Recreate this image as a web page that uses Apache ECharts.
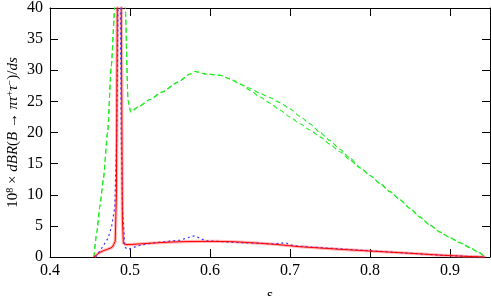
<!DOCTYPE html>
<html><head><meta charset="utf-8">
<script src="https://cdn.jsdelivr.net/npm/echarts@6/dist/echarts.min.js"></script>
<style>html,body{margin:0;padding:0;background:#fff}#c{width:491px;height:296px}</style>
</head><body><div id="c"></div>
<script>
// x ticks / y ticks
const xTickValues = [0.4, 0.5, 0.6, 0.7, 0.8, 0.9];
const yTickValues = [0, 5, 10, 15, 20, 25, 30, 35, 40];

// Red solid curve
const redS = [0.455, 0.4583, 0.4625, 0.4666, 0.471, 0.475, 0.478, 0.48, 0.4815, 0.483, 0.4841, 0.4876, 0.4891, 0.4905, 0.4917, 0.495, 0.5, 0.5125, 0.53, 0.55, 0.57, 0.5875, 0.61, 0.63, 0.65, 0.68, 0.7125, 0.7625, 0.8, 0.85, 0.8875, 0.92, 0.944];
const redV = [0, 0.35, 0.75, 1.0, 1.2, 1.4, 1.6, 1.9, 2.5, 10, 40, 400, 40, 6, 2.2, 2.0, 2.0, 2.1, 2.25, 2.4, 2.48, 2.5, 2.5, 2.45, 2.3, 2.05, 1.65, 1.24, 0.96, 0.6, 0.3, 0.1, 0];

// Blue dotted curve
const blueS = [0.457, 0.462, 0.467, 0.4725, 0.477, 0.481, 0.4835, 0.485, 0.4865, 0.4879, 0.489, 0.4905, 0.4935, 0.4975, 0.5, 0.51, 0.525, 0.54, 0.5625, 0.575, 0.581, 0.5875, 0.595, 0.61, 0.6375, 0.665, 0.68, 0.694, 0.704, 0.75, 0.8, 0.85, 0.8875, 0.92, 0.944];
const blueV = [0, 0.9, 1.9, 3.0, 4.9, 8, 20, 40, 400, 40, 20, 8, 1.6, 1.2, 1.3, 1.8, 2.2, 2.4, 2.7, 3.2, 3.4, 3.0, 2.6, 2.5, 2.3, 2.2, 2.1, 2.3, 1.8, 1.4, 1.0, 0.6, 0.3, 0.1, 0];

// Green dashed curves: common part, then two tails
const greenS = [0.455, 0.4584, 0.4625, 0.4666, 0.472, 0.4765, 0.481, 0.4876, 0.4941, 0.4975, 0.5009, 0.51, 0.525, 0.54, 0.56, 0.575, 0.581, 0.595, 0.6125, 0.625, 0.6375];
const greenV = [0, 3.9, 8.3, 12.4, 20, 30.5, 40, 400, 40, 25.2, 23.3, 24.1, 25.3, 26.5, 28.1, 29.4, 29.8, 29.4, 29.2, 28.6, 27.8];
const greenUpperS = [0.65, 0.6625, 0.675, 0.6875, 0.7, 0.7125, 0.725, 0.7375, 0.75, 0.7625, 0.775, 0.7875, 0.8, 0.8125, 0.825, 0.8375, 0.85, 0.8625, 0.875, 0.8875, 0.9, 0.9125, 0.925, 0.935, 0.944];
const greenUpperV = [27.1, 26.3, 25.6, 24.8, 23.8, 22.6, 21.4, 20.0, 18.7, 17.3, 15.9, 14.4, 13.1, 11.8, 10.5, 9.2, 7.8, 6.4, 5.1, 4.0, 3.1, 2.3, 1.5, 0.8, 0];
const greenLowerS = [0.65, 0.6625, 0.675, 0.6875, 0.7, 0.7125, 0.725, 0.7375, 0.75, 0.7625, 0.775, 0.7875, 0.8, 0.8125, 0.825, 0.8375, 0.85, 0.8625, 0.875, 0.8875, 0.9, 0.9125, 0.925, 0.935, 0.944];
const greenLowerV = [26.8, 25.7, 24.7, 23.6, 22.5, 21.4, 20.4, 19.3, 18.1, 16.9, 15.6, 14.3, 13.1, 11.8, 10.5, 9.2, 7.8, 6.4, 5.1, 4.0, 3.1, 2.3, 1.5, 0.8, 0];

const zip = (a, b) => a.map((x, i) => [x, b[i]]);
const greenA = zip(greenS.concat(greenUpperS), greenV.concat(greenUpperV));
const greenB = zip(greenS.concat(greenLowerS), greenV.concat(greenLowerV));
const red = zip(redS, redV);
const blue = zip(blueS, blueV);

const FONT = '"Liberation Serif", "Times New Roman", serif';
const axisCommon = {
  type: 'value',
  axisLine: { show: true, onZero: false, lineStyle: { color: '#000', width: 1 } },
  axisTick: { show: true, inside: true, length: 8, lineStyle: { color: '#000', width: 1 } },
  splitLine: { show: false }
};

const chart = echarts.init(document.getElementById('c'), null, { renderer: 'canvas' });
chart.setOption({
  animation: false,
  backgroundColor: '#fff',
  grid: { left: 50, right: 1, top: 8, bottom: 39, containLabel: false, outerBoundsMode: 'none' },
  xAxis: [
    Object.assign({}, axisCommon, {
      position: 'bottom', min: 0.4, max: 0.95, interval: 0.1,
      name: 's', nameLocation: 'middle', nameGap: 31, nameMoveOverlap: false,
      nameTextStyle: { fontFamily: FONT, fontSize: 16, color: '#000' },
      axisLabel: { fontFamily: FONT, fontSize: 16, color: '#000', margin: 6, showMaxLabel: false,
        formatter: v => (xTickValues.some(t => Math.abs(t - v) < 1e-6) ? v.toFixed(1) : '') }
    }),
    Object.assign({}, axisCommon, {
      position: 'top', min: 0.4, max: 0.95, interval: 0.1, axisLabel: { show: false }
    })
  ],
  yAxis: [
    Object.assign({}, axisCommon, {
      position: 'left', min: 0, max: 40, interval: 5,
      name: '{n|10}{s|8}{n| × }{i|dBR}{n|(}{i|B}{n| → }{i|πτ}{s|+}{i|τ}{s|−}{n|)/}{i|ds}',
      nameLocation: 'middle', nameGap: 28, nameRotate: 90, nameMoveOverlap: false,
      nameTextStyle: {
        fontFamily: FONT, fontSize: 15, color: '#000',
        rich: {
          n: { fontFamily: FONT, fontSize: 15, color: '#000' },
          i: { fontFamily: FONT, fontSize: 15, fontStyle: 'italic', color: '#000' },
          s: { fontFamily: FONT, fontSize: 10, color: '#000', padding: [0, 0, 7, 0] }
        }
      },
      axisLabel: { fontFamily: FONT, fontSize: 16, color: '#000', margin: 7,
        formatter: v => (yTickValues.indexOf(v) >= 0 ? String(v) : '') }
    }),
    Object.assign({}, axisCommon, {
      position: 'right', min: 0, max: 40, interval: 5, axisLabel: { show: false }
    })
  ],
  series: [
    { type: 'line', data: greenA, showSymbol: false, clip: true, z: 2, smooth: 0.2, smoothMonotone: 'x',
      lineStyle: { color: '#22ee22', width: 1.1, type: [5, 3] } },
    { type: 'line', data: greenB, showSymbol: false, clip: true, z: 2, smooth: 0.2, smoothMonotone: 'x',
      lineStyle: { color: '#22ee22', width: 1.1, type: [5, 3] } },
    { type: 'line', data: red, showSymbol: false, clip: true, z: 3,
      lineStyle: { color: 'rgba(255,90,90,0.45)', width: 3.2 } },
    { type: 'line', data: blue, showSymbol: false, clip: true, z: 4,
      lineStyle: { color: '#3a3aff', width: 1.2, type: [2, 3] } },
    { type: 'line', data: red, showSymbol: false, clip: true, z: 5,
      lineStyle: { color: '#ff0000', width: 1 } }
  ]
});
</script>
</body></html>
